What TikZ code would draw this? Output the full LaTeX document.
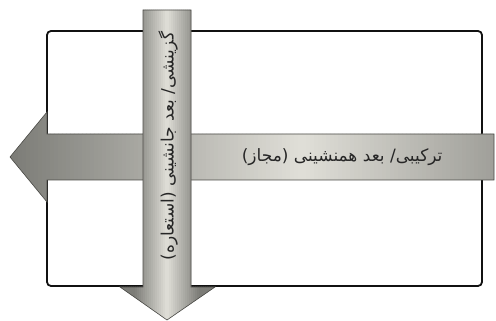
\documentclass[tikz,border=0pt]{standalone}
\usepackage{fontspec}
\usepackage{tikz}
\usetikzlibrary{calc}
\TeXXeTstate=1
\newfontfamily\arabicfont[Script=Arabic]{DejaVu Sans}
\definecolor{cadre}{HTML}{111111}
\definecolor{flechebord}{HTML}{4A4A46}
\definecolor{flechefonce}{HTML}{7C7C77}
\definecolor{flecheclair}{HTML}{E0DFD8}
\definecolor{flechemoyen}{HTML}{ABAAA4}
\tikzset{
  contour/.style={draw=flechebord,line width=0.6pt}
}
\begin{document}
\begin{tikzpicture}[x=1pt,y=1pt, every node/.style={font=\arabicfont\fontsize{17}{20}\selectfont,text=black!85}]
  \useasboundingbox (0,0) rectangle (496,321);
  \fill[white] (0,0) rectangle (496,321);
  % Cadre
  \draw[cadre,line width=1.8pt,rounded corners=4pt] (47,35) rectangle (482,290);
  % Fleche horizontale (vers la gauche)
  \begin{scope}
    \clip (494,187) -- (47,187) -- (47,209) -- (10,164) -- (47,119) -- (47,141) -- (494,141) -- cycle;
    \foreach \i in {0,...,121}{
      \pgfmathsetmacro\xx{10+4*\i}
      \pgfmathsetmacro\p{\xx<300 ? (\xx-10)/2.9 : 100-(\xx-300)*0.335}
      \fill[flecheclair!\p!flechefonce] (\xx,110) rectangle (\xx+4.5,215);
    }
  \end{scope}
  \draw[contour] (494,187) -- (47,187) -- (47,209) -- (10,164) -- (47,119) -- (47,141) -- (494,141) -- cycle;
  \node[anchor=east] (syntag) at (446,164){\beginR ترکیبی/ بعد همنشینی (مجاز)\endR};
  % Fleche verticale (vers le bas)
  \begin{scope}
    \clip (143,311) -- (191,311) -- (191,34) -- (215,34) -- (167,1) -- (120,34) -- (143,34) -- cycle;
    \foreach \i in {0,...,48}{
      \pgfmathsetmacro\xx{119+2*\i}
      \pgfmathsetmacro\p{max(0,100-abs(\xx+1-167)*3.1)}
      \fill[flecheclair!\p!flechefonce] (\xx,0) rectangle (\xx+2.5,315);
    }
  \end{scope}
  \draw[contour] (143,311) -- (191,311) -- (191,34) -- (215,34) -- (167,1) -- (120,34) -- (143,34) -- cycle;
  \node[rotate=90] (paradig) at (168,175){\beginR گزینشی/ بعد جانشینی (استعاره)\endR};
\end{tikzpicture}
\end{document}
